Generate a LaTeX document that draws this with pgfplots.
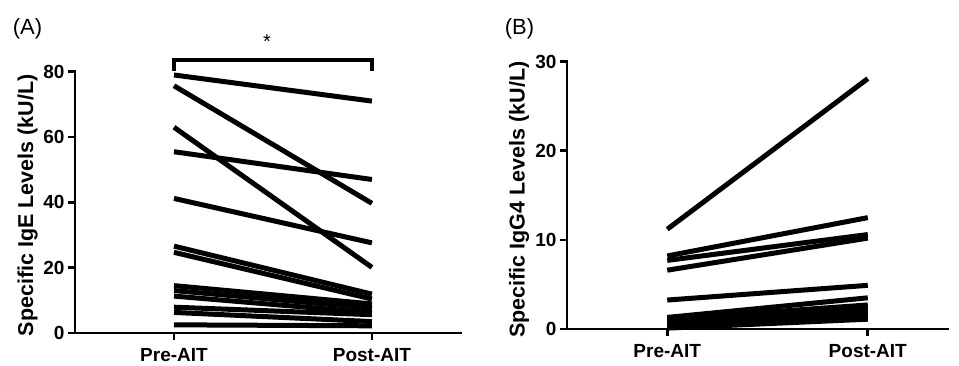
\documentclass[border=0pt]{standalone}
\usepackage{pgfplots}
\pgfplotsset{compat=1.18}
\usepackage{fontspec}
\setmainfont{Liberation Sans}
\begin{document}
\begin{tikzpicture}
\path[use as bounding box] (0pt,0pt) rectangle (959pt,365pt);
\pgfplotsset{
  pairstyle/.style={
    scale only axis,
    axis x line=bottom, axis y line=left,
    axis line style={-, line width=2.7pt, line cap=rect},
    every tick/.style={black, line width=2.7pt},
    tick align=outside, major tick length=7pt,
    xtick={1,2}, xticklabels={Pre-AIT,Post-AIT},
    xmin=0.5, ymin=0,
    ticklabel style={font=\fontsize{19}{20}\selectfont\bfseries},
    /pgf/number format/assume math mode=true,
    label style={font=\fontsize{21.5}{24}\selectfont\bfseries},
    clip=false,
  },
  pl/.style={black, line width=5pt, line cap=butt, no marks},
}
% Panel A
\begin{axis}[pairstyle, at={(75pt,32pt)}, anchor=south west,
  width=386pt, height=261.3pt, xmax=2.45, ymax=80,
  ytick={0,20,40,60,80},
  ylabel={Specific IgE Levels (kU/L)},
  ylabel style={at={(axis description cs:-0.123,0.488)}, anchor=center},
  xticklabel style={yshift=-5pt}]
\addplot[pl] coordinates {(1,79.0) (2,71.0)};
\addplot[pl] coordinates {(1,75.7) (2,39.7)};
\addplot[pl] coordinates {(1,63.0) (2,20.1)};
\addplot[pl] coordinates {(1,55.5) (2,47.0)};
\addplot[pl] coordinates {(1,41.2) (2,27.6)};
\addplot[pl] coordinates {(1,26.6) (2,11.9)};
\addplot[pl] coordinates {(1,24.7) (2,10.4)};
\addplot[pl] coordinates {(1,14.5) (2,8.9)};
\addplot[pl] coordinates {(1,13.0) (2,7.6)};
\addplot[pl] coordinates {(1,11.3) (2,6.2)};
\addplot[pl] coordinates {(1,7.9) (2,5.6)};
\addplot[pl] coordinates {(1,6.3) (2,3.5)};
\addplot[pl] coordinates {(1,2.5) (2,2.2)};
% significance bracket
\addplot[black, line width=3.3pt, line cap=butt, line join=miter, no marks]
  coordinates {(1,80.3) (1,83.6) (2,83.6) (2,80.3)};
\node[font=\fontsize{20}{22}\selectfont] at (axis cs:1.47,89.2) {*};
\end{axis}
% Panel B
\begin{axis}[pairstyle, at={(567pt,36pt)}, anchor=south west,
  width=381pt, height=267.3pt, xmax=2.4, ymax=30,
  ytick={0,10,20,30},
  ylabel={Specific IgG4 Levels (kU/L)},
  ylabel style={at={(axis description cs:-0.126,0.484)}, anchor=center},
  xticklabel style={yshift=-5pt}]
\addplot[pl] coordinates {(1,11.2) (2,28.1)};
\addplot[pl] coordinates {(1,8.2) (2,12.5)};
\addplot[pl] coordinates {(1,7.7) (2,10.6)};
\addplot[pl] coordinates {(1,6.6) (2,10.2)};
\addplot[pl] coordinates {(1,3.25) (2,4.9)};
\addplot[pl] coordinates {(1,1.3) (2,3.5)};
\addplot[pl] coordinates {(1,1.1) (2,2.7)};
\addplot[pl] coordinates {(1,0.9) (2,2.3)};
\addplot[pl] coordinates {(1,0.7) (2,2.0)};
\addplot[pl] coordinates {(1,0.5) (2,1.7)};
\addplot[pl] coordinates {(1,0.35) (2,1.5)};
\addplot[pl] coordinates {(1,0.2) (2,1.3)};
\addplot[pl] coordinates {(1,0.1) (2,1.1)};
\end{axis}
\node[font=\fontsize{22}{24}\selectfont] at (27.5pt,336pt) {(A)};
\node[font=\fontsize{22}{24}\selectfont] at (519.5pt,336pt) {(B)};
\end{tikzpicture}
\end{document}
